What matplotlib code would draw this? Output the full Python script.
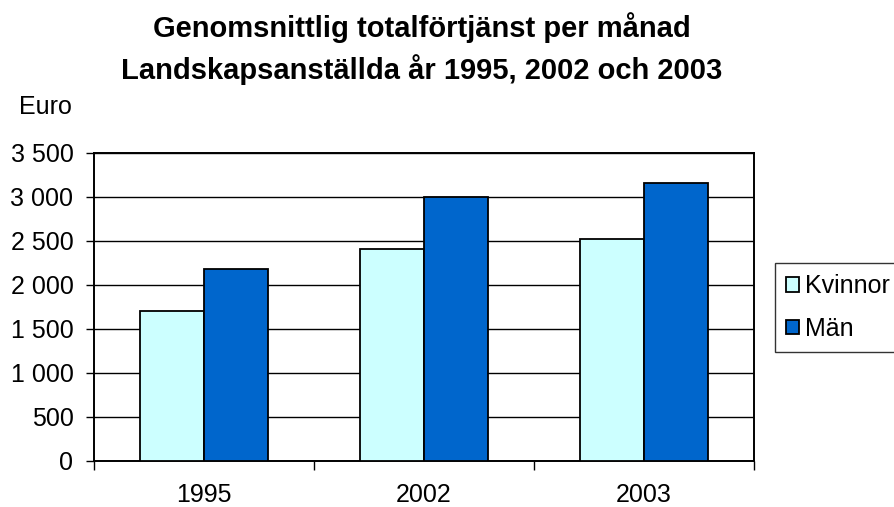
import matplotlib.pyplot as plt
import numpy as np

plt.rcParams['font.family'] = ['Liberation Sans', 'DejaVu Sans']

years = ['1995', '2002', '2003']
kvinnor = [1700, 2405, 2520]
man = [2180, 2995, 3155]
yticks = [0, 500, 1000, 1500, 2000, 2500, 3000, 3500]
ytick_labels = ['0', '500', '1 000', '1 500', '2 000', '2 500', '3 000', '3 500']

fig = plt.figure(figsize=(8.94, 5.07), dpi=100)
ax = fig.add_axes([94 / 894, 1 - 461 / 507, 660 / 894, 308 / 507])

x = np.arange(len(years))
w = 0.29
ax.bar(x - w / 2, kvinnor, w, color='#CCFFFF', edgecolor='black', linewidth=1.3, label='Kvinnor', zorder=3)
ax.bar(x + w / 2, man, w, color='#0066CC', edgecolor='black', linewidth=1.3, label='Män', zorder=3)

ax.set_xlim(-0.5, len(years) - 0.5)
ax.set_ylim(0, 3500)
ax.set_yticks(yticks)
ax.set_yticklabels(ytick_labels, fontsize=18)
ax.yaxis.grid(True, color='black', linewidth=1)
ax.set_axisbelow(True)

ax.set_xticks(x)
ax.set_xticklabels(years, fontsize=18)
ax.tick_params(axis='x', length=0, pad=16)
ax.set_xticks(np.arange(-0.5, len(years)), minor=True)
ax.tick_params(axis='x', which='minor', length=6.5, width=1, direction='out')
ax.tick_params(axis='y', length=5.8, width=1, direction='out', pad=9)

for s in ax.spines.values():
    s.set_linewidth(1.4)
    s.set_color('black')

fig.suptitle('Genomsnittlig totalförtjänst per månad\nLandskapsanställda år 1995, 2002 och 2003',
             x=422 / 894, y=1 - 12 / 507, fontsize=21, fontweight='bold', va='top', linespacing=1.45)
fig.text(19 / 894, 1 - 107 / 507, 'Euro', fontsize=18, va='center', ha='left')

leg = fig.legend(loc='upper left', bbox_to_anchor=(775 / 894, 1 - 263 / 507), fontsize=18,
                 frameon=True, fancybox=False, edgecolor='black', handlelength=0.5, handleheight=0.5,
                 handletextpad=0.25, borderpad=0.45, labelspacing=0.75, borderaxespad=0)
leg.get_frame().set_linewidth(1)

fig.savefig('out.png', dpi=100)
